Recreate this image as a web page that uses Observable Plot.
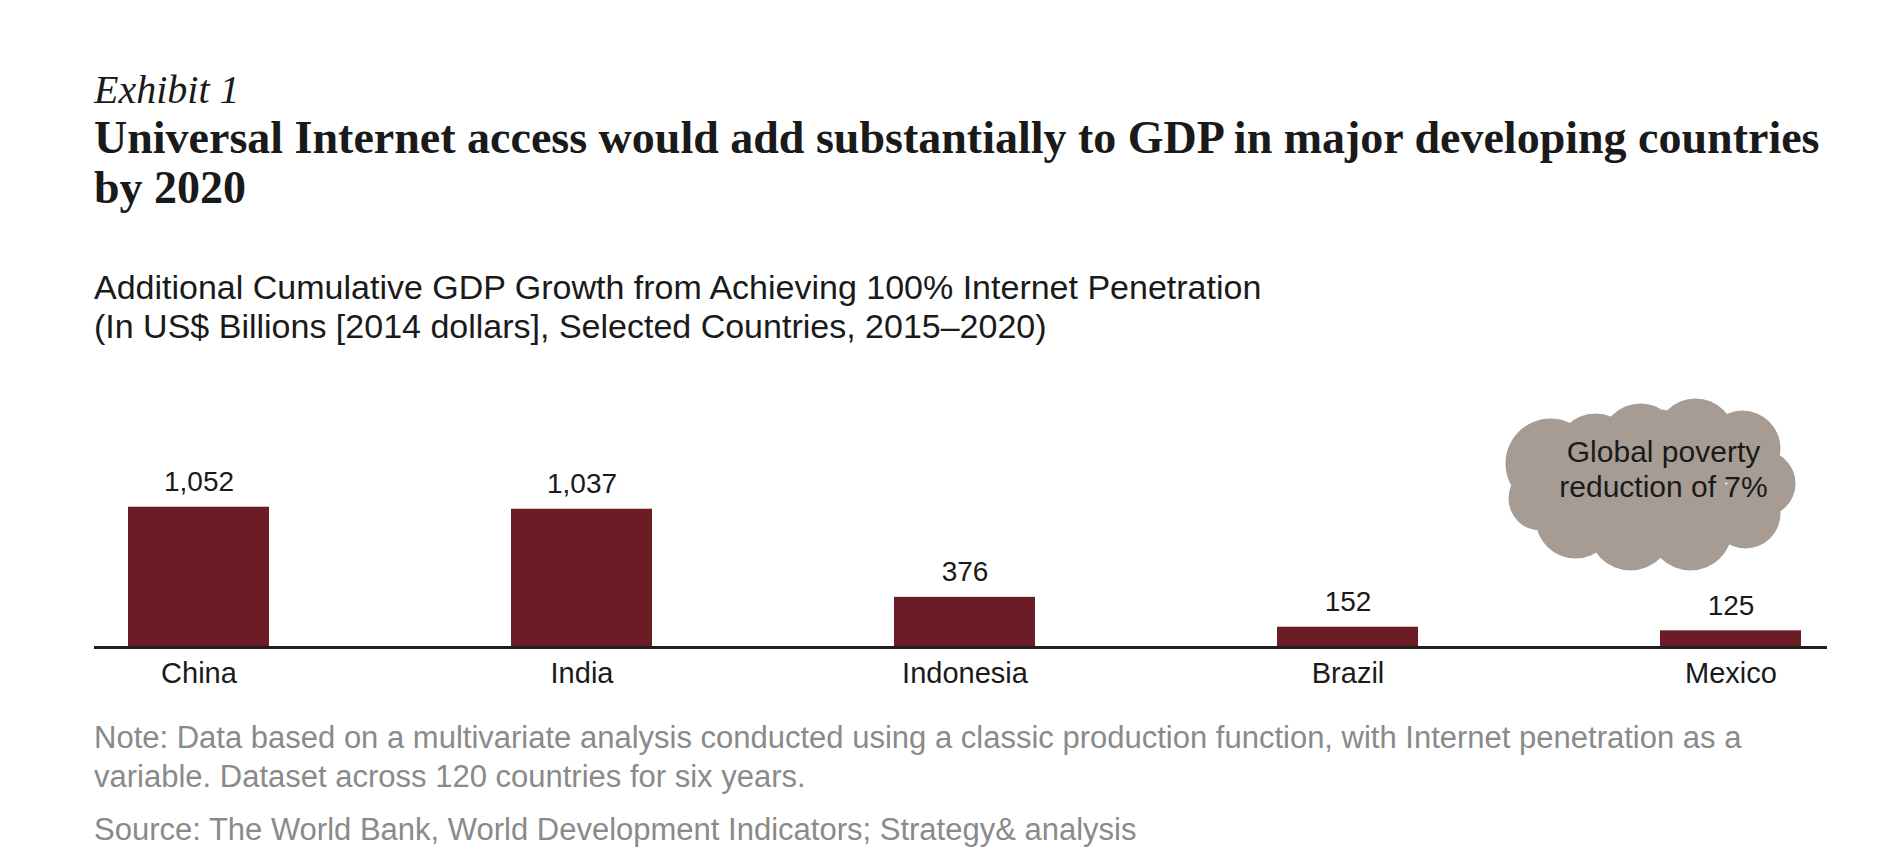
<!DOCTYPE html>
<html>
<head>
<meta charset="utf-8">
<script src="https://cdn.jsdelivr.net/npm/d3@7"></script>
<script src="https://cdn.jsdelivr.net/npm/@observablehq/plot@0.6"></script>
<style>
  html, body { margin: 0; padding: 0; background: #ffffff; }
  body { position: relative; width: 1889px; height: 866px; overflow: hidden; font-family: "Liberation Sans", Arial, Helvetica, sans-serif; color: #1a1a1a; }
  .t { position: absolute; left: 94px; margin: 0; white-space: nowrap; }
  #exhibit { top: 70px; font-family: "Liberation Serif", "Times New Roman", serif; font-style: italic; font-size: 40px; line-height: 40px; color: #1a1a1a; }
  #title { top: 113px; font-family: "Liberation Serif", "Times New Roman", serif; font-weight: bold; font-size: 46px; line-height: 49.5px; color: #1a1a1a; }
  #subtitle { top: 268px; font-size: 34px; line-height: 38.6px; color: #1a1a1a; }
  #note { top: 718px; font-size: 31px; line-height: 39px; color: #8a8a8a; }
  #source { top: 810px; font-size: 31px; line-height: 39px; color: #8a8a8a; }
  #chart { position: absolute; left: 0; top: 380px; }
</style>
</head>
<body>
<div id="exhibit" class="t">Exhibit 1</div>
<div id="title" class="t">Universal Internet access would add substantially to GDP in major developing countries<br>by 2020</div>
<div id="subtitle" class="t">Additional Cumulative GDP Growth from Achieving 100% Internet Penetration<br>(In US$ Billions [2014 dollars], Selected Countries, 2015–2020)</div>
<div id="chart"></div>
<div id="note" class="t">Note: Data based on a multivariate analysis conducted using a classic production function, with Internet penetration as a<br>variable. Dataset across 120 countries for six years.</div>
<div id="source" class="t">Source: The World Bank, World Development Indicators; Strategy&amp; analysis</div>
<script>
// ---- data ----
const countries = ["China", "India", "Indonesia", "Brazil", "Mexico"];
const values = [1052, 1037, 376, 152, 125];
const annotationLines = ["Global poverty", "reduction of 7%"];

const data = countries.map((c, i) => ({country: c, value: values[i]}));
const fmt = d3.format(",");

// cloud-shaped symbol (union of circles), drawn at scale 1 px when r = 1
const cloudSymbol = {
  draw(context, size) {
    const s = Math.sqrt(size / Math.PI);
    const lumps = [
      [0, 0, 75], [-100, -20, 45], [-55, -30, 40], [-10, -40, 40], [45, -45, 40],
      [92, -35, 38], [112, 0, 33], [95, 30, 35], [40, 45, 42], [-20, 45, 42],
      [-75, 35, 40], [-110, 15, 32]
    ];
    for (const [cx, cy, r] of lumps) {
      context.moveTo((cx + r) * s, cy * s);
      context.arc(cx * s, cy * s, r * s, 0, 2 * Math.PI);
    }
  }
};

const W = 1889, H = 320;
const chart = Plot.plot({
  width: W,
  height: H,
  marginLeft: 94,
  marginRight: 55,
  marginTop: 107,
  marginBottom: 53,
  style: {fontFamily: "'Liberation Sans', Arial, Helvetica, sans-serif", color: "#1a1a1a", background: "transparent"},
  x: {type: "band", domain: countries, paddingInner: 0.633, paddingOuter: 0.083, align: 0.5, axis: null},
  y: {domain: [0, 1200], axis: null},
  marks: [
    Plot.dot([0], {frameAnchor: "top-right", symbol: cloudSymbol, r: 1, fill: "#a69c94", stroke: "none", dx: -184, dy: -4}),
    Plot.text([annotationLines.join("\n")], {frameAnchor: "top-right", text: d => d, dx: -171, dy: -19.5, fontSize: 30, lineHeight: 1.17, textAnchor: "middle", lineAnchor: "middle", fill: "#1a1a1a"}),
    Plot.barY(data, {x: "country", y: "value", fill: "#6b1c24"}),
    Plot.text(data, {x: "country", y: "value", text: d => fmt(d.value), dy: -16, lineAnchor: "bottom", fontSize: 28, fill: "#1a1a1a"}),
    Plot.ruleY([0], {stroke: "#1f1f1f", strokeWidth: 3, insetRight: 7}),
    Plot.axisX({tickSize: 0, tickPadding: 15, fontSize: 29, label: null, fill: "#1a1a1a"})
  ]
});
document.getElementById("chart").appendChild(chart);
</script>
</body>
</html>
